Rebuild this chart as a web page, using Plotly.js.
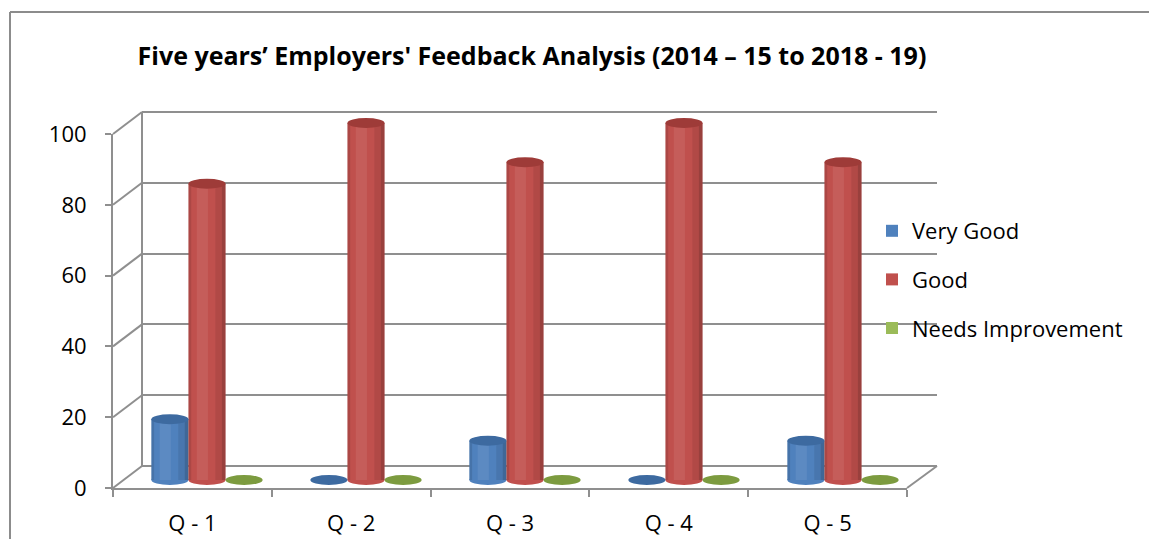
<!DOCTYPE html>
<html>
<head>
<meta charset="utf-8">
<script src="https://cdn.plot.ly/plotly-3.0.1.min.js"></script>
<style>html,body{margin:0;padding:0;background:#fff;}#chart{width:1149px;height:539px;}</style>
</head>
<body>
<div id="chart"></div>
<script>
// ---- data ----
const categories = ["Q - 1", "Q - 2", "Q - 3", "Q - 4", "Q - 5"];
const seriesNames = ["Very Good", "Good", "Needs Improvement"];
const veryGood = [17, 0, 11, 0, 11];
const good = [83, 100, 89, 100, 89];
const needsImprovement = [0, 0, 0, 0, 0];
const yTicks = [0, 20, 40, 60, 80, 100];

// ---- styling ----
const W = 1149, H = 539;
const px = v => v / W;
const py = v => 1 - v / H;
const colors = ["#4f81bd", "#c0504d", "#9bbb59"];
const capColors = ["#3d6aa0", "#9e3b38", "#7c9b3f"];
const gridColor = "#8f8f8f";
const font = "'Open Sans', Lato, sans-serif";

// domains (paper fractions)
const backX = [px(142), px(937)];
const back0 = 466, back100 = 112, bUnit = (back0 - back100) / 100;
const backRange = [-3, 103];
const backY = [py(back0 + 3 * bUnit), py(back100 - 3 * bUnit)];
const frontX = [px(113), px(907)], frontY = [py(488), py(134)];
const mainX = [px(127.5), px(922.5)];
const y0px = 480, y100px = 123, unit = (y0px - y100px) / 100;
const mainRange = [-2, 102];
const mainY = [py(y0px + 2 * unit), py(y100px - 2 * unit)];

const allSeries = [veryGood, good, needsImprovement];

const traces = [];
// back wall helper trace
traces.push({x: [0, 1], y: [0, 100], xaxis: "x", yaxis: "y", mode: "none", type: "scatter", showlegend: false, hoverinfo: "skip"});
// bars
allSeries.forEach((vals, i) => {
  traces.push({
    type: "bar", name: seriesNames[i], x: categories, y: vals,
    xaxis: "x2", yaxis: "y2",
    marker: {color: colors[i], line: {width: 0}},
    legendgroup: "g" + i, hoverinfo: "skip"
  });
});
// front axis helper trace
traces.push({x: categories, y: categories.map(() => null), xaxis: "x3", yaxis: "y3", mode: "none", type: "scatter", showlegend: false, hoverinfo: "skip"});

// shapes: cylinder caps + shading computed from data
const shapes = [];
const nS = allSeries.length;
const groupW = 0.7, barW = groupW / nS;
const barPx = barW * (mainX[1] - mainX[0]) * W / categories.length;
const hp = barPx / 2;
allSeries.forEach((vals, i) => {
  const off = -groupW / 2 + barW * (i + 0.5);
  vals.forEach((v, j) => {
    const xa = j + off;
    if (v > 0) {
      shapes.push({type: "circle", xref: "x2", yref: "y2", xsizemode: "pixel", ysizemode: "pixel",
        xanchor: xa, yanchor: 0, x0: -hp, x1: hp, y0: -5, y1: 5,
        fillcolor: colors[i], line: {width: 0}, layer: "below"});
      shapes.push({type: "rect", xref: "x2", yref: "y2", xsizemode: "pixel",
        xanchor: xa, x0: -hp * 0.55, x1: hp * 0.05, y0: 0, y1: v,
        fillcolor: "rgba(255,255,255,0.08)", line: {width: 0}, layer: "above"});
      shapes.push({type: "rect", xref: "x2", yref: "y2", xsizemode: "pixel",
        xanchor: xa, x0: hp * 0.45, x1: hp * 0.8, y0: 0, y1: v,
        fillcolor: "rgba(0,0,0,0.08)", line: {width: 0}, layer: "above"});
      shapes.push({type: "rect", xref: "x2", yref: "y2", xsizemode: "pixel",
        xanchor: xa, x0: hp * 0.8, x1: hp, y0: 0, y1: v,
        fillcolor: "rgba(0,0,0,0.2)", line: {width: 0}, layer: "above"});
      shapes.push({type: "rect", xref: "x2", yref: "y2", xsizemode: "pixel",
        xanchor: xa, x0: -hp, x1: -hp * 0.85, y0: 0, y1: v,
        fillcolor: "rgba(0,0,0,0.1)", line: {width: 0}, layer: "above"});
    }
    shapes.push({type: "circle", xref: "x2", yref: "y2", xsizemode: "pixel", ysizemode: "pixel",
      xanchor: xa, yanchor: v, x0: -hp, x1: hp, y0: -5, y1: 5,
      fillcolor: capColors[i], line: {width: 0}, layer: "above"});
  });
});
// back wall edges and perspective connectors
const bY = v => backY[0] + (v - backRange[0]) / (backRange[1] - backRange[0]) * (backY[1] - backY[0]);
const fY = v => frontY[0] + v / 100 * (frontY[1] - frontY[0]);
shapes.push({type: "line", xref: "paper", yref: "paper", x0: backX[0], y0: bY(0), x1: backX[0], y1: bY(100),
  line: {color: gridColor, width: 2}, layer: "below"});
yTicks.forEach(v => {
  shapes.push({type: "line", xref: "paper", yref: "paper", x0: frontX[0], y0: fY(v), x1: backX[0], y1: bY(v),
    line: {color: gridColor, width: 2}, layer: "below"});
});
shapes.push({type: "line", xref: "paper", yref: "paper", x0: frontX[1], y0: fY(0), x1: backX[1], y1: bY(0),
  line: {color: gridColor, width: 2}, layer: "below"});
// chart frame
shapes.push({type: "line", xref: "paper", yref: "paper", x0: px(10), y0: py(12), x1: 1, y1: py(12), line: {color: "#8c8c8c", width: 2}});
shapes.push({type: "line", xref: "paper", yref: "paper", x0: px(10), y0: py(12), x1: px(10), y1: 0, line: {color: "#8c8c8c", width: 2}});

const layout = {
  width: W, height: H,
  margin: {l: 0, r: 0, t: 0, b: 0},
  paper_bgcolor: "#ffffff", plot_bgcolor: "rgba(0,0,0,0)",
  font: {family: font, color: "#000", size: 20},
  title: {text: "Five years’ Employers' Feedback Analysis (2014 – 15 to 2018 - 19)",
    x: px(532), y: py(56), xanchor: "center", yanchor: "middle", xref: "paper", yref: "paper",
    font: {family: font, size: 25, weight: "bold", color: "#000"}},
  barmode: "group", bargap: 0.3, bargroupgap: 0,
  showlegend: true,
  legend: {x: px(872), y: py(210), xanchor: "left", yanchor: "top", font: {family: font, size: 22, color: "#000"},
    tracegroupgap: 17, bgcolor: "rgba(0,0,0,0)", traceorder: "grouped"},
  xaxis: {domain: backX, range: [0, 1], showgrid: false, zeroline: false, showticklabels: false, showline: false, fixedrange: true},
  yaxis: {domain: backY, range: backRange, tickvals: yTicks, showgrid: true, gridcolor: gridColor, gridwidth: 2,
    zeroline: false, showticklabels: false, showline: false, ticks: "", fixedrange: true},
  xaxis2: {domain: mainX, range: [-0.5, 4.5], type: "category", showgrid: false, zeroline: false, showticklabels: false, showline: false},
  yaxis2: {domain: mainY, range: mainRange, showgrid: false, zeroline: false, showticklabels: false, showline: false},
  xaxis3: {domain: frontX, range: [-0.5, 4.5], type: "category", showgrid: false, zeroline: false, showline: true,
    linecolor: gridColor, linewidth: 2, ticks: "outside", tickson: "boundaries", ticklen: 7, tickwidth: 2, tickcolor: gridColor,
    tickfont: {family: font, size: 22, color: "#000"}, ticklabelstandoff: 15, anchor: "y3"},
  yaxis3: {domain: frontY, range: [0, 100], tickvals: yTicks, showgrid: false, zeroline: false, showline: true,
    linecolor: gridColor, linewidth: 2, ticks: "outside", ticklen: 6, tickwidth: 2, tickcolor: gridColor,
    tickfont: {family: font, size: 22, color: "#000"}, ticklabelstandoff: 14, anchor: "x3"},
  shapes: shapes
};

Plotly.newPlot("chart", traces, layout, {displayModeBar: false, staticPlot: true});
</script>
</body>
</html>
